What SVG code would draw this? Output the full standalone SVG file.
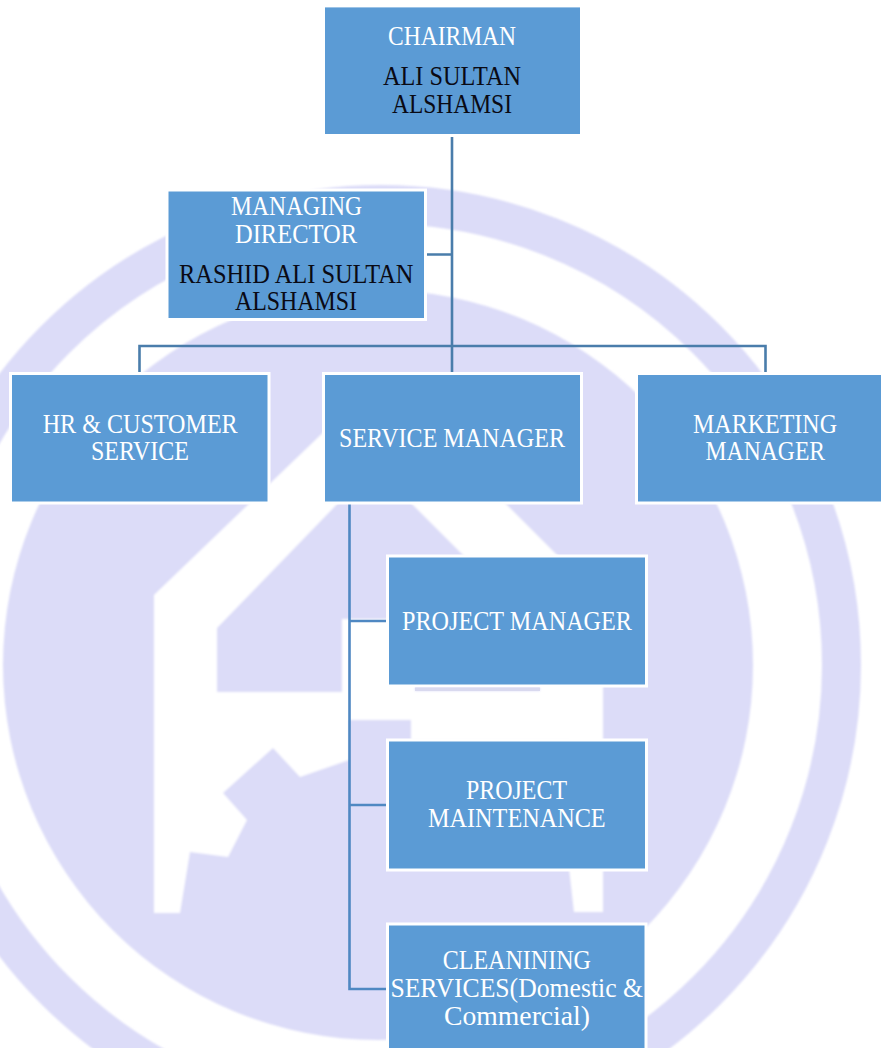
<svg xmlns="http://www.w3.org/2000/svg" width="881" height="1048" viewBox="0 0 881 1048">
<defs><filter id="soft" x="-5%" y="-5%" width="110%" height="110%"><feGaussianBlur stdDeviation="1"/></filter></defs>
<style>
.box{fill:#5b9bd5;stroke:#fff;stroke-width:3}
.t{font-family:"Liberation Serif","DejaVu Serif",serif;font-size:26.5px}
.w{fill:#fff}
.k{fill:#0a0a14}
.wm{fill:#dcdcf8}
.c1{fill:none;stroke:#4a7dab;stroke-width:2.6}
.c2{fill:none;stroke:#4f88c2;stroke-width:2.6}
</style>
<rect width="881" height="1048" fill="#fff"/>
<g id="watermark" filter="url(#soft)">
<circle cx="381" cy="665" r="460.5" fill="none" stroke="#dcdcf8" stroke-width="39"/>
<circle class="wm" cx="378" cy="665" r="375"/>
<path fill="#fff" d="M154 595L380 378L603 601V912H574L569 868V740H411V720H349V760L300 777L273 748L223 793L247 820L228 857L190 852L180 913H154Z"/>
<path class="wm" d="M217 628L374 466L540 632V691H415V619H342V692H217Z"/>
<rect x="349" y="720" width="62" height="30" class="wm"/>
</g>
<g id="connectors">
<path class="c1" d="M452 137V372M427 254.5H452M139.5 372V346H765.5V372"/>
<path class="c2" d="M349.5 504V989H387M349.5 621H387M349.5 805H387"/>
</g>
<g id="chairman">
<rect class="box" x="323.500" y="5.900" width="258" height="129.600"/>
<text class="t w" x="388" y="45" textLength="128" lengthAdjust="spacingAndGlyphs">CHAIRMAN</text>
<text class="t k" x="383" y="85" textLength="138" lengthAdjust="spacingAndGlyphs">ALI SULTAN</text>
<text class="t k" x="392" y="112.700" textLength="120" lengthAdjust="spacingAndGlyphs">ALSHAMSI</text>
</g>
<g id="managing-director">
<rect class="box" x="167" y="190" width="258.500" height="129.500"/>
<text class="t w" x="231" y="214.700" textLength="131" lengthAdjust="spacingAndGlyphs">MANAGING</text>
<text class="t w" x="235" y="243" textLength="122" lengthAdjust="spacingAndGlyphs">DIRECTOR</text>
<text class="t k" x="179" y="282.600" textLength="234.500" lengthAdjust="spacingAndGlyphs">RASHID ALI SULTAN</text>
<text class="t k" x="235" y="310" textLength="122" lengthAdjust="spacingAndGlyphs">ALSHAMSI</text>
</g>
<g id="hr-customer-service">
<rect class="box" x="10.500" y="373.500" width="258.500" height="129.500"/>
<text class="t w" x="42.700" y="432.500" textLength="195" lengthAdjust="spacingAndGlyphs">HR &amp; CUSTOMER</text>
<text class="t w" x="91" y="460" textLength="98" lengthAdjust="spacingAndGlyphs">SERVICE</text>
</g>
<g id="service-manager">
<rect class="box" x="323.500" y="373.500" width="258" height="129.500"/>
<text class="t w" x="339" y="446.500" textLength="226" lengthAdjust="spacingAndGlyphs">SERVICE MANAGER</text>
</g>
<g id="marketing-manager">
<rect class="box" x="636.500" y="373.500" width="250" height="129.500"/>
<text class="t w" x="693" y="432.500" textLength="144" lengthAdjust="spacingAndGlyphs">MARKETING</text>
<text class="t w" x="705.600" y="460" textLength="119.500" lengthAdjust="spacingAndGlyphs">MANAGER</text>
</g>
<g id="project-manager">
<rect class="box" x="387.500" y="556" width="259" height="130"/>
<text class="t w" x="402" y="629.500" textLength="230" lengthAdjust="spacingAndGlyphs">PROJECT MANAGER</text>
</g>
<rect x="415" y="687.500" width="125" height="3.500" fill="#d9d9ef"/>
<g id="project-maintenance">
<rect class="box" x="387.500" y="740" width="259" height="130"/>
<text class="t w" x="466" y="799" textLength="101" lengthAdjust="spacingAndGlyphs">PROJECT</text>
<text class="t w" x="428" y="826.700" textLength="177.600" lengthAdjust="spacingAndGlyphs">MAINTENANCE</text>
</g>
<g id="cleaning-services">
<rect class="box" x="387.500" y="924" width="258.500" height="135"/>
<text class="t w" x="442.700" y="969" textLength="148.300" lengthAdjust="spacingAndGlyphs">CLEANINING</text>
<text class="t w" x="390.400" y="997" textLength="252.600" lengthAdjust="spacingAndGlyphs">SERVICES(Domestic &amp;</text>
<text class="t w" x="444" y="1024.600" textLength="146" lengthAdjust="spacingAndGlyphs">Commercial)</text>
</g>
</svg>
